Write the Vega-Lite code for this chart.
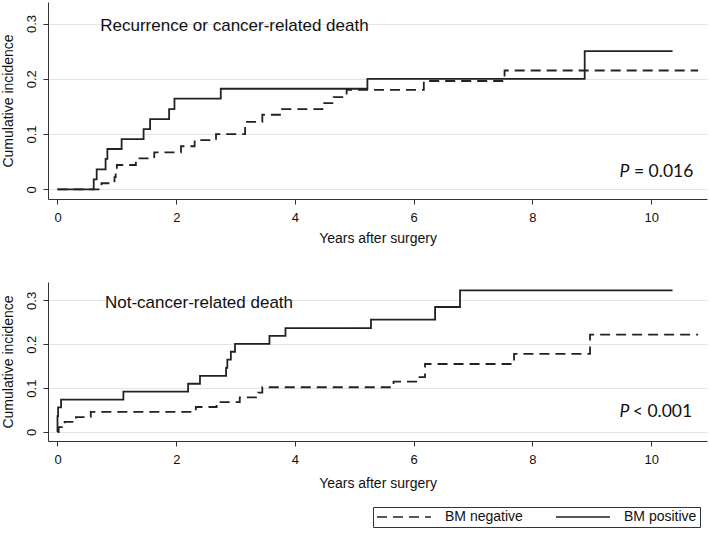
{
  "$schema": "https://vega.github.io/schema/vega-lite/v6.json",
  "background": "white",
  "padding": {"left": 1, "top": 2, "right": 2, "bottom": 2},
  "datasets": {
    "curves": [
      {"panel": "top", "group": "BM positive", "x": 0, "y": 0},
      {"panel": "top", "group": "BM positive", "x": 0.61, "y": 0.018},
      {"panel": "top", "group": "BM positive", "x": 0.66, "y": 0.036},
      {"panel": "top", "group": "BM positive", "x": 0.81, "y": 0.055},
      {"panel": "top", "group": "BM positive", "x": 0.84, "y": 0.073},
      {"panel": "top", "group": "BM positive", "x": 1.08, "y": 0.091},
      {"panel": "top", "group": "BM positive", "x": 1.45, "y": 0.109},
      {"panel": "top", "group": "BM positive", "x": 1.56, "y": 0.127},
      {"panel": "top", "group": "BM positive", "x": 1.88, "y": 0.145},
      {"panel": "top", "group": "BM positive", "x": 1.97, "y": 0.164},
      {"panel": "top", "group": "BM positive", "x": 2.75, "y": 0.182},
      {"panel": "top", "group": "BM positive", "x": 5.22, "y": 0.2},
      {"panel": "top", "group": "BM positive", "x": 8.88, "y": 0.25},
      {"panel": "top", "group": "BM positive", "x": 10.36, "y": 0.25},
      {"panel": "top", "group": "BM negative", "x": 0, "y": 0},
      {"panel": "top", "group": "BM negative", "x": 0.74, "y": 0.011},
      {"panel": "top", "group": "BM negative", "x": 0.96, "y": 0.022},
      {"panel": "top", "group": "BM negative", "x": 0.98, "y": 0.033},
      {"panel": "top", "group": "BM negative", "x": 1.0, "y": 0.044},
      {"panel": "top", "group": "BM negative", "x": 1.32, "y": 0.056},
      {"panel": "top", "group": "BM negative", "x": 1.63, "y": 0.067},
      {"panel": "top", "group": "BM negative", "x": 2.08, "y": 0.078},
      {"panel": "top", "group": "BM negative", "x": 2.31, "y": 0.089},
      {"panel": "top", "group": "BM negative", "x": 2.67, "y": 0.1},
      {"panel": "top", "group": "BM negative", "x": 3.16, "y": 0.122},
      {"panel": "top", "group": "BM negative", "x": 3.45, "y": 0.135},
      {"panel": "top", "group": "BM negative", "x": 3.78, "y": 0.145},
      {"panel": "top", "group": "BM negative", "x": 4.46, "y": 0.156},
      {"panel": "top", "group": "BM negative", "x": 4.65, "y": 0.167},
      {"panel": "top", "group": "BM negative", "x": 4.87, "y": 0.18},
      {"panel": "top", "group": "BM negative", "x": 6.17, "y": 0.196},
      {"panel": "top", "group": "BM negative", "x": 7.53, "y": 0.215},
      {"panel": "top", "group": "BM negative", "x": 10.79, "y": 0.215},
      {"panel": "bottom", "group": "BM positive", "x": 0, "y": 0},
      {"panel": "bottom", "group": "BM positive", "x": 0, "y": 0.036},
      {"panel": "bottom", "group": "BM positive", "x": 0.01, "y": 0.056},
      {"panel": "bottom", "group": "BM positive", "x": 0.06, "y": 0.074},
      {"panel": "bottom", "group": "BM positive", "x": 1.11, "y": 0.092},
      {"panel": "bottom", "group": "BM positive", "x": 2.2, "y": 0.11},
      {"panel": "bottom", "group": "BM positive", "x": 2.4, "y": 0.128},
      {"panel": "bottom", "group": "BM positive", "x": 2.84, "y": 0.146},
      {"panel": "bottom", "group": "BM positive", "x": 2.86, "y": 0.165},
      {"panel": "bottom", "group": "BM positive", "x": 2.92, "y": 0.183},
      {"panel": "bottom", "group": "BM positive", "x": 2.99, "y": 0.201},
      {"panel": "bottom", "group": "BM positive", "x": 3.57, "y": 0.219},
      {"panel": "bottom", "group": "BM positive", "x": 3.84, "y": 0.237},
      {"panel": "bottom", "group": "BM positive", "x": 5.28, "y": 0.256},
      {"panel": "bottom", "group": "BM positive", "x": 6.36, "y": 0.285},
      {"panel": "bottom", "group": "BM positive", "x": 6.78, "y": 0.323},
      {"panel": "bottom", "group": "BM positive", "x": 10.36, "y": 0.323},
      {"panel": "bottom", "group": "BM negative", "x": 0, "y": 0},
      {"panel": "bottom", "group": "BM negative", "x": 0.02, "y": 0.011},
      {"panel": "bottom", "group": "BM negative", "x": 0.12, "y": 0.023},
      {"panel": "bottom", "group": "BM negative", "x": 0.31, "y": 0.034},
      {"panel": "bottom", "group": "BM negative", "x": 0.56, "y": 0.046},
      {"panel": "bottom", "group": "BM negative", "x": 2.33, "y": 0.057},
      {"panel": "bottom", "group": "BM negative", "x": 2.68, "y": 0.068},
      {"panel": "bottom", "group": "BM negative", "x": 3.07, "y": 0.079},
      {"panel": "bottom", "group": "BM negative", "x": 3.38, "y": 0.09},
      {"panel": "bottom", "group": "BM negative", "x": 3.45, "y": 0.102},
      {"panel": "bottom", "group": "BM negative", "x": 5.66, "y": 0.115},
      {"panel": "bottom", "group": "BM negative", "x": 6.06, "y": 0.125},
      {"panel": "bottom", "group": "BM negative", "x": 6.19, "y": 0.155},
      {"panel": "bottom", "group": "BM negative", "x": 7.69, "y": 0.178},
      {"panel": "bottom", "group": "BM negative", "x": 8.97, "y": 0.222},
      {"panel": "bottom", "group": "BM negative", "x": 10.79, "y": 0.222}
    ],
    "notes": [
      {"panel": "top", "part": "title", "x": 0.72, "y": 0.287, "text": "Recurrence or cancer-related death"},
      {"panel": "top", "part": "p", "x": 9.63, "y": 0.023, "text": "P"},
      {"panel": "top", "part": "val", "x": 10.71, "y": 0.023, "text": "= 0.016"},
      {"panel": "bottom", "part": "title", "x": 0.8, "y": 0.282, "text": "Not-cancer-related death"},
      {"panel": "bottom", "part": "p", "x": 9.63, "y": 0.034, "text": "P"},
      {"panel": "bottom", "part": "val", "x": 10.69, "y": 0.034, "text": "< 0.001"}
    ]
  },
  "config": {
    "view": {"stroke": null},
    "font": "Liberation Sans",
    "axis": {
      "domainColor": "#333",
      "tickColor": "#333",
      "tickSize": 5,
      "labelColor": "#111",
      "titleColor": "#111",
      "labelFontSize": 13,
      "titleFontSize": 14,
      "titleFontWeight": "normal",
      "gridColor": "#e4e4e4",
      "gridWidth": 1
    }
  },
  "bounds": "flush",
  "spacing": 83,
  "vconcat": [
    {
      "width": 659,
      "height": 197,
      "layer": [
        {
          "data": {"name": "curves"},
          "transform": [{"filter": "datum.panel == 'top'"}],
          "mark": {"type": "line", "interpolate": "step-after", "color": "#222", "strokeWidth": 1.8},
          "encoding": {
            "x": {"field": "x", "type": "quantitative", "scale": {"domain": [-0.16, 10.94], "nice": false, "zero": false},
                  "axis": {"values": [0, 2, 4, 6, 8, 10], "format": "d", "title": "Years after surgery", "grid": false, "labelPadding": 7, "titlePadding": 7}},
            "y": {"field": "y", "type": "quantitative", "scale": {"domain": [-0.0175, 0.339], "nice": false, "zero": false},
                  "axis": {"values": [0, 0.1, 0.2, 0.3], "format": "~g", "title": "Cumulative incidence", "grid": true, "labelAngle": -90, "labelPadding": 5, "titlePadding": 10}},
            "strokeDash": {"field": "group", "type": "nominal",
                           "scale": {"domain": ["BM negative", "BM positive"], "range": [[10, 6], [1, 0]]},
                           "legend": {"title": null, "orient": "none", "legendX": 325, "legendY": 505, "direction": "horizontal",
                                      "strokeColor": "#333", "padding": 3, "clipHeight": 14, "symbolType": "stroke", "symbolSize": 2916,
                                      "symbolStrokeWidth": 1.5, "symbolStrokeColor": "#222", "labelFontSize": 14, "labelFont": "Liberation Sans",
                                      "labelColor": "#111", "labelOffset": 13, "columnPadding": 32}}
          }
        },
        {
          "data": {"name": "notes"},
          "transform": [{"filter": "datum.panel == 'top' && datum.part == 'title'"}],
          "mark": {"type": "text", "align": "left", "baseline": "alphabetic", "fontSize": 17, "font": "Liberation Sans", "color": "#111"},
          "encoding": {"x": {"field": "x", "type": "quantitative"}, "y": {"field": "y", "type": "quantitative"}, "text": {"field": "text"}}
        },
        {
          "data": {"name": "notes"},
          "transform": [{"filter": "datum.panel == 'top' && datum.part == 'p'"}],
          "mark": {"type": "text", "align": "right", "baseline": "alphabetic", "fontSize": 17.5, "font": "Lato", "fontStyle": "italic", "color": "#111"},
          "encoding": {"x": {"field": "x", "type": "quantitative"}, "y": {"field": "y", "type": "quantitative"}, "text": {"field": "text"}}
        },
        {
          "data": {"name": "notes"},
          "transform": [{"filter": "datum.panel == 'top' && datum.part == 'val'"}],
          "mark": {"type": "text", "align": "right", "baseline": "alphabetic", "fontSize": 17.5, "font": "Lato", "color": "#111"},
          "encoding": {"x": {"field": "x", "type": "quantitative"}, "y": {"field": "y", "type": "quantitative"}, "text": {"field": "text"}}
        }
      ]
    },
    {
      "width": 659,
      "height": 159,
      "layer": [
        {
          "data": {"name": "curves"},
          "transform": [{"filter": "datum.panel == 'bottom'"}],
          "mark": {"type": "line", "interpolate": "step-after", "color": "#222", "strokeWidth": 1.8},
          "encoding": {
            "x": {"field": "x", "type": "quantitative", "scale": {"domain": [-0.16, 10.94], "nice": false, "zero": false},
                  "axis": {"values": [0, 2, 4, 6, 8, 10], "format": "d", "title": "Years after surgery", "grid": false, "labelPadding": 7, "titlePadding": 10}},
            "y": {"field": "y", "type": "quantitative", "scale": {"domain": [-0.0205, 0.342], "nice": false, "zero": false},
                  "axis": {"values": [0, 0.1, 0.2, 0.3], "format": "~g", "title": "Cumulative incidence", "grid": true, "labelAngle": -90, "labelPadding": 5, "titlePadding": 10}},
            "strokeDash": {"field": "group", "type": "nominal",
                           "scale": {"domain": ["BM negative", "BM positive"], "range": [[10, 6], [1, 0]]}}
          }
        },
        {
          "data": {"name": "notes"},
          "transform": [{"filter": "datum.panel == 'bottom' && datum.part == 'title'"}],
          "mark": {"type": "text", "align": "left", "baseline": "alphabetic", "fontSize": 17, "font": "Liberation Sans", "color": "#111"},
          "encoding": {"x": {"field": "x", "type": "quantitative"}, "y": {"field": "y", "type": "quantitative"}, "text": {"field": "text"}}
        },
        {
          "data": {"name": "notes"},
          "transform": [{"filter": "datum.panel == 'bottom' && datum.part == 'p'"}],
          "mark": {"type": "text", "align": "right", "baseline": "alphabetic", "fontSize": 17.5, "font": "Lato", "fontStyle": "italic", "color": "#111"},
          "encoding": {"x": {"field": "x", "type": "quantitative"}, "y": {"field": "y", "type": "quantitative"}, "text": {"field": "text"}}
        },
        {
          "data": {"name": "notes"},
          "transform": [{"filter": "datum.panel == 'bottom' && datum.part == 'val'"}],
          "mark": {"type": "text", "align": "right", "baseline": "alphabetic", "fontSize": 17.5, "font": "Lato", "color": "#111"},
          "encoding": {"x": {"field": "x", "type": "quantitative"}, "y": {"field": "y", "type": "quantitative"}, "text": {"field": "text"}}
        }
      ]
    }
  ]
}
